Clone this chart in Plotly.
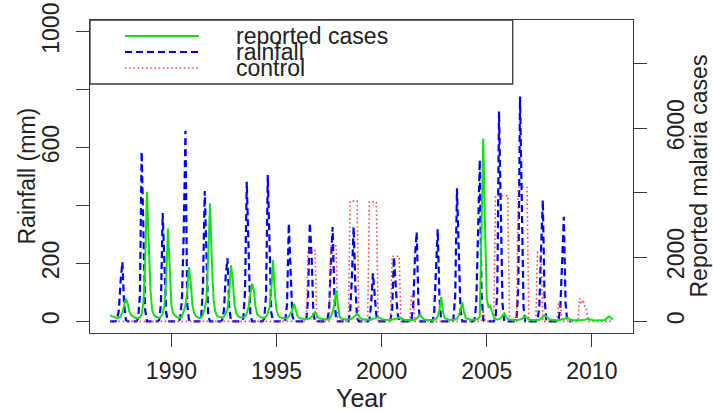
import plotly.graph_objects as go

FONT = "Liberation Sans"

# monthly series, one row per year (Jan..Dec)
case_years = list(range(1987, 2011))
reported_cases = [
    [187, 160, 130, 110, 100, 110, 150, 280, 480, 706, 560, 300],      # 1987
    [200, 150, 120, 100, 100, 130, 220, 600, 1800, 4022, 2600, 1000],  # 1988
    [350, 200, 150, 120, 110, 140, 250, 500, 1300, 2883, 1500, 500],   # 1989
    [250, 170, 130, 110, 110, 150, 300, 500, 900, 1690, 1200, 500],    # 1990
    [250, 160, 130, 110, 120, 200, 400, 700, 2000, 3660, 2000, 700],   # 1991
    [300, 180, 140, 120, 120, 150, 250, 400, 900, 1742, 1300, 500],    # 1992
    [250, 170, 130, 120, 120, 150, 250, 450, 800, 1173, 1000, 450],    # 1993
    [220, 160, 130, 110, 110, 150, 250, 450, 1000, 1897, 900, 350],    # 1994
    [180, 130, 110, 100, 100, 110, 150, 250, 350, 550, 320, 160],      # 1995
    [110, 90, 80, 70, 70, 80, 100, 140, 200, 290, 180, 100],           # 1996
    [80, 70, 60, 60, 60, 80, 150, 300, 500, 964, 450, 150],            # 1997
    [90, 70, 60, 60, 60, 70, 90, 130, 180, 240, 150, 90],              # 1998
    [70, 60, 50, 50, 50, 60, 70, 90, 110, 134, 100, 70],               # 1999
    [60, 50, 50, 45, 45, 50, 60, 80, 100, 120, 90, 60],                # 2000
    [50, 45, 40, 40, 40, 45, 60, 90, 150, 218, 130, 70],               # 2001
    [50, 45, 40, 40, 40, 50, 80, 150, 350, 756, 300, 100],             # 2002
    [70, 60, 50, 50, 50, 60, 90, 180, 350, 600, 300, 100],             # 2003
    [80, 60, 50, 50, 50, 60, 80, 150, 2800, 5683, 3000, 700],          # 2004
    [450, 480, 300, 150, 80, 60, 70, 100, 170, 250, 150, 80],          # 2005
    [60, 50, 45, 40, 40, 45, 60, 80, 120, 155, 110, 60],               # 2006
    [50, 45, 40, 40, 40, 50, 90, 140, 187, 150, 90, 60],               # 2007
    [50, 40, 40, 35, 35, 40, 50, 70, 100, 115, 80, 50],                # 2008
    [40, 35, 30, 30, 30, 35, 40, 55, 70, 80, 60, 40],                  # 2009
    [35, 30, 30, 30, 30, 35, 45, 70, 110, 155, 100, 60],               # 2010
]

rain_years = list(range(1987, 2009))
rainfall_mm = [
    [0, 0, 0, 0, 5, 40, 140, 205, 60, 5, 0, 0],       # 1987
    [0, 0, 0, 0, 10, 90, 586, 300, 40, 0, 0, 0],      # 1988
    [0, 0, 0, 0, 5, 60, 374, 200, 30, 0, 0, 0],       # 1989
    [0, 0, 0, 0, 10, 80, 300, 658, 60, 5, 0, 0],      # 1990
    [0, 0, 0, 0, 15, 120, 450, 250, 20, 0, 0, 0],     # 1991
    [0, 0, 0, 0, 5, 40, 160, 218, 50, 0, 0, 0],       # 1992
    [0, 0, 0, 0, 10, 100, 482, 260, 30, 0, 0, 0],     # 1993
    [0, 0, 0, 0, 10, 90, 505, 240, 30, 0, 0, 0],      # 1994
    [0, 0, 0, 0, 5, 60, 338, 180, 20, 0, 0, 0],       # 1995
    [0, 0, 0, 0, 5, 80, 340, 230, 30, 0, 0, 0],       # 1996
    [0, 0, 0, 0, 5, 40, 200, 326, 90, 5, 0, 0],       # 1997
    [0, 0, 0, 0, 0, 30, 150, 326, 120, 10, 0, 0],     # 1998
    [0, 0, 0, 0, 5, 60, 166, 100, 20, 0, 0, 0],       # 1999
    [0, 0, 0, 0, 5, 40, 222, 140, 30, 0, 0, 0],       # 2000
    [0, 0, 0, 0, 5, 50, 220, 309, 60, 0, 0, 0],       # 2001
    [0, 0, 0, 0, 0, 30, 180, 318, 80, 0, 0, 0],       # 2002
    [0, 0, 0, 0, 10, 90, 459, 250, 40, 0, 0, 0],      # 2003
    [0, 0, 0, 0, 5, 60, 300, 557, 100, 5, 0, 0],      # 2004
    [0, 0, 0, 0, 10, 100, 724, 400, 60, 0, 0, 0],     # 2005
    [0, 0, 0, 0, 10, 120, 776, 450, 50, 0, 0, 0],     # 2006
    [0, 0, 0, 0, 5, 50, 250, 419, 80, 0, 0, 0],       # 2007
    [0, 0, 0, 0, 5, 50, 200, 361, 60, 0, 0, 0],       # 2008
]

control_years = list(range(1987, 2011))
control_mm = [
    [0] * 12, [0] * 12, [0] * 12, [0] * 12, [0] * 12,   # 1987-1991
    [0] * 12, [0] * 12, [0] * 12, [0] * 12,             # 1992-1995
    [0, 0, 0, 0, 0, 245, 245, 245, 245, 245, 0, 0],     # 1996
    [0, 0, 0, 0, 0, 0, 260, 260, 260, 260, 0, 0],       # 1997
    [0, 0, 0, 0, 0, 415, 415, 415, 415, 415, 0, 0],     # 1998
    [0, 0, 0, 0, 413, 413, 413, 413, 413, 0, 0, 0],     # 1999
    [0, 0, 0, 0, 0, 225, 225, 225, 225, 225, 0, 0],     # 2000
    [0, 0, 0, 0, 90, 90, 0, 0, 0, 0, 0, 0],             # 2001
    [0] * 12,                                           # 2002
    [0] * 12,                                           # 2003
    [0, 0, 0, 0, 0, 0, 0, 0, 0, 40, 0, 0],              # 2004
    [0, 0, 0, 0, 434, 434, 434, 434, 434, 434, 434, 434],  # 2005
    [0, 0, 0, 0, 0, 463, 463, 463, 463, 463, 463, 0],   # 2006
    [0, 0, 0, 0, 240, 240, 240, 0, 0, 0, 0, 0],         # 2007
    [0, 0, 0, 0, 60, 60, 0, 0, 0, 0, 0, 0],             # 2008
    [0, 0, 0, 0, 80, 60, 75, 50, 40, 0, 0, 0],          # 2009
    [0] * 12,                                           # 2010
]

x_ticks = [1990, 1995, 2000, 2005, 2010]
rain_ticks = [0, 200, 400, 600, 800, 1000]
rain_tick_text = ["0", "200", "", "600", "", "1000"]
case_ticks = [0, 2000, 4000, 6000, 8000]
case_tick_text = ["0", "2000", "", "6000", ""]

legend_labels = ["reported cases", "rainfall", "control"]


def monthly(years, rows):
    t, v = [], []
    for y, row in zip(years, rows):
        for m, val in enumerate(row, start=1):
            t.append(y + m / 12)
            v.append(val)
    return t, v


t_rain, v_rain = monthly(rain_years, rainfall_mm)
t_ctrl, v_ctrl = monthly(control_years, control_mm)
t_case, v_case = monthly(case_years, reported_cases)

GREEN = "rgb(20,225,20)"
BLUE = "rgb(0,0,255)"
RED = "rgba(255,40,40,0.85)"
BLUE_DASH = "7px,4px"
RED_DOT = "1.6px,2.6px"

fig = go.Figure()
fig.add_trace(go.Scatter(x=t_rain, y=v_rain, mode="lines", yaxis="y",
                         line=dict(color=BLUE, width=2.2, dash=BLUE_DASH),
                         showlegend=False))
fig.add_trace(go.Scatter(x=t_ctrl, y=v_ctrl, mode="lines", yaxis="y",
                         line=dict(color=RED, width=1.6, dash=RED_DOT),
                         showlegend=False))
fig.add_trace(go.Scatter(x=t_case, y=v_case, mode="lines", yaxis="y2",
                         line=dict(color=GREEN, width=2),
                         showlegend=False))

AX = "#3a3a3a"
tickfont = dict(family=FONT, size=23, color="#222")

fig.update_layout(
    width=713, height=412,
    margin=dict(l=90, r=80, t=20, b=79, autoexpand=False),
    paper_bgcolor="white", plot_bgcolor="white",
    font=dict(family=FONT, size=23, color="#222"),
    xaxis=dict(range=[1986.126, 2011.957], tickvals=x_ticks,
               ticks="outside", ticklen=13, tickwidth=1.3, tickcolor=AX,
               showline=True, linecolor=AX, linewidth=1.3, mirror=True,
               showgrid=False, zeroline=False, tickfont=tickfont,
               ticklabelstandoff=4, automargin=False),
    yaxis=dict(range=[-40, 1040], tickvals=rain_ticks, ticktext=rain_tick_text,
               ticks="outside", ticklen=13, tickwidth=1.3, tickcolor=AX,
               showline=True, linecolor=AX, linewidth=1.3, mirror=True,
               showgrid=False, zeroline=False, tickangle=-90,
               tickfont=tickfont, ticklabelstandoff=8, automargin=False),
    yaxis2=dict(range=[-360, 9360], tickvals=case_ticks, ticktext=case_tick_text,
                overlaying="y", side="right", anchor="x",
                ticks="outside", ticklen=13, tickwidth=1.3, tickcolor=AX,
                showline=False, showgrid=False, zeroline=False, tickangle=-90,
                tickfont=tickfont, ticklabelstandoff=9, automargin=False),
)

# legend box in the top-left corner of the plotting region
PW, PH = 543.0, 313.0


def px(xp):
    return (xp - 90) / PW


def py(yp):
    return (333 - yp) / PH


shapes = [dict(type="rect", xref="paper", yref="paper",
               x0=0, x1=px(512.7), y0=py(84), y1=1,
               line=dict(color=AX, width=1.3), fillcolor="rgba(0,0,0,0)")]
rows = [36, 52, 68]
styles = [dict(color=GREEN, width=2), dict(color=BLUE, width=2.2, dash=BLUE_DASH),
          dict(color=RED, width=1.6, dash=RED_DOT)]
annotations = []
for label, row, st in zip(legend_labels, rows, styles):
    shapes.append(dict(type="line", xref="paper", yref="paper",
                       x0=px(125), x1=px(199), y0=py(row), y1=py(row), line=st))
    annotations.append(dict(text=label, xref="paper", yref="paper",
                            x=px(234), y=py(row), xanchor="left", yanchor="middle",
                            showarrow=False, font=dict(family=FONT, size=23, color="#222")))

annotations += [
    dict(text="Year", xref="paper", yref="paper", x=0.5, y=py(398),
         xanchor="center", yanchor="middle", showarrow=False,
         font=dict(family=FONT, size=25, color="#222")),
    dict(text="Rainfall (mm)", xref="paper", yref="paper", x=px(26), y=0.5,
         xanchor="center", yanchor="middle", textangle=-90, showarrow=False,
         font=dict(family=FONT, size=23, color="#222")),
    dict(text="Reported malaria cases", xref="paper", yref="paper", x=px(698), y=0.5,
         xanchor="center", yanchor="middle", textangle=-90, showarrow=False,
         font=dict(family=FONT, size=23, color="#222")),
]

fig.update_layout(shapes=shapes, annotations=annotations)
fig.write_html("out.html")
